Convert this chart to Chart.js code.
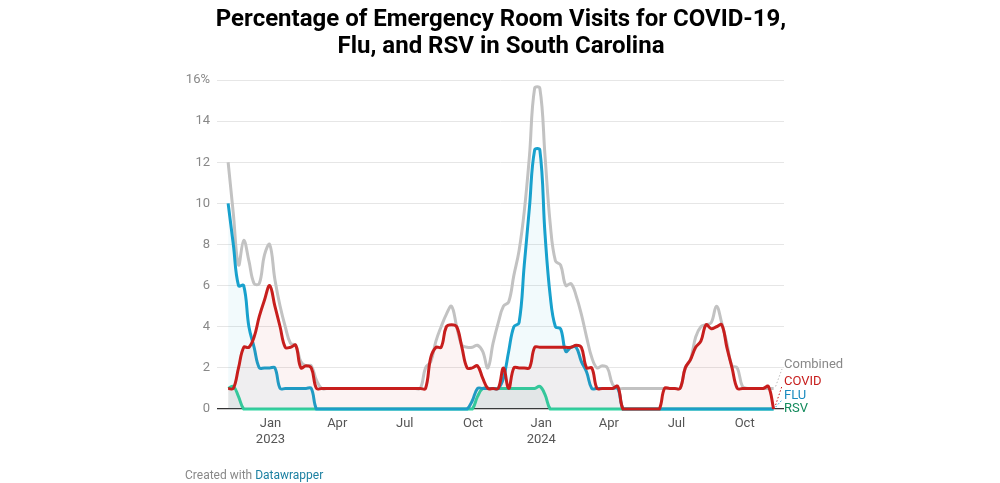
<!DOCTYPE html>
<html>
<head>
<meta charset="utf-8">
<script src="https://cdn.jsdelivr.net/npm/chart.js@4"></script>
<style>
  html, body { margin: 0; padding: 0; background: #fff; }
  canvas { display: block; }
</style>
</head>
<body>
<canvas id="c" width="1000" height="483"></canvas>
<script>
// ---------- DATA ----------
const firstWeek = '2022-11-05';   // weekly series start
const weekCount = 106;

const covid = [1,1,2,3,3,3.5,4.5,5.3,6,5,4,3,3,3.1,2,2.1,2,1,
  1,1,1,1,1,1,1,1,1,1,1,1,1,1,1,1,1,1,1,1,1,
  2.5,3,3,4,4.1,4,3,2,2,2.1,1.5,1,1,1,2,1,2,2,2,2,
  3,3,3,3,3,3,3,3,3.1,3,2,2,1,1,1,1,1.1,
  0,0,0,0,0,0,0,0,
  1,1,1,1,2,2.4,3,3.3,4.1,3.9,4,4.1,3,2,1,1,1,1,1,1,1.1,0];

const flu = [10,8,6,6,4,3,2,2,2,2,1,1,1,1,1,1,1,0,
  0,0,0,0,0,0,0,0,0,0,0,0,0,0,0,0,0,0,0,0,0,
  0,0,0,0,0,0,0,0,0.4,1,1,1,1,1,1.5,2.8,4,4.2,7,9.8,
  12.6,12.6,8.5,5.5,4,3.9,2.8,3,3,2.3,1.8,1,1,1,1,1,1,
  0,0,0,0,0,0,0,0,
  0,0,0,0,0,0,0,0,0,0,0,0,0,0,0,0,0,0,0,0,0,0];

const rsv = [1,1.1,0.6,0,0,0,0,0,0,0,0,0,0,0,0,0,0,0,
  0,0,0,0,0,0,0,0,0,0,0,0,0,0,0,0,0,0,0,0,0,
  0,0,0,0,0,0,0,0,0,0.6,1,1,1,1,1,1,1,1,1,1,
  1,1.1,0.7,0,0,0,0,0,0,0,0,0,0,0,0,0,0,
  0,0,0,0,0,0,0,0,
  0,0,0,0,0,0,0,0,0,0,0,0,0,0,0,0,0,0,0,0,0,0];

const combined = [12,9.5,7,8.2,7.2,6.1,6.1,7.5,8,6.3,5,4,3.2,3.1,2.3,2.1,2.1,1.4,
  1,1,1,1,1,1,1,1,1,1,1,1,1,1,1,1,1,1,1,1,2,
  2.3,3.3,4,4.6,5,4,3.1,3,3,3.1,2.8,2,3.2,4.2,5,5.2,6.5,7.7,9.6,12.3,
  15.6,15.6,12.3,9,7.2,7,6,6.1,5.5,4.6,3.5,2.5,2,2.1,2,1.2,1,
  1,1,1,1,1,1,1,1,
  1,1,1,1,2,2.4,3.5,4,4.1,4.2,5,4.2,3.2,2.1,2,1.1,1,1,1,1,1,1];

const tickDates  = ['2023-01-01','2023-04-01','2023-07-01','2023-10-01','2024-01-01','2024-04-01','2024-07-01','2024-10-01'];
const tickLabels = [['Jan','2023'],'Apr','Jul','Oct',['Jan','2024'],'Apr','Jul','Oct'];
const yTicks = [0,2,4,6,8,10,12,14,16];

const seriesNames = ['Combined','COVID','FLU','RSV'];

// ---------- helpers ----------
const origin = Date.UTC(2023,0,1);
function dayOf(s){ const [y,m,d]=s.split('-').map(Number); return Math.round((Date.UTC(y,m-1,d)-origin)/86400000); }
const startDay = dayOf(firstWeek);
const weekDays = Array.from({length: weekCount}, (_, i) => startDay + 7*i);
const toPts = arr => arr.map((v,i) => ({x: weekDays[i], y: v}));
const tickDays = tickDates.map(dayOf);

const C = { combined:'#c2c2c2', covid:'#c71e1d', flu:'#18a1cd', rsv:'#2fd4a0' };

const decor = {
  id: 'decor',
  afterDraw(chart) {
    const ctx = chart.ctx;
    const xs = chart.scales.x, ys = chart.scales.y;
    ctx.save();
    // title
    ctx.fillStyle = '#000';
    ctx.font = 'bold 24px Roboto';
    ctx.textAlign = 'center';
    ctx.textBaseline = 'middle';
    ctx.fillText('Percentage of Emergency Room Visits for COVID-19,', 501, 20);
    ctx.fillText('Flu, and RSV in South Carolina', 501, 47);
    // footer
    ctx.textAlign = 'left';
    ctx.font = '12px Roboto';
    ctx.fillStyle = '#888';
    const t1 = 'Created with ';
    ctx.fillText(t1, 185, 476);
    ctx.fillStyle = '#1d81a2';
    ctx.fillText('Datawrapper', 185 + ctx.measureText(t1).width, 476);
    // end labels
    const lastX = xs.getPixelForValue(weekDays[weekCount-1]);
    const labels = [
      {t: seriesNames[0], c: '#888888', y: 365, v: combined[weekCount-1], lc: '#bbbbbb'},
      {t: seriesNames[1], c: '#c71e1d', y: 382, v: covid[weekCount-1], lc: '#c71e1d'},
      {t: seriesNames[2], c: '#1b8bbf', y: 396, v: flu[weekCount-1], lc: '#18a1cd'},
      {t: seriesNames[3], c: '#138a5c', y: 409, v: null}
    ];
    ctx.font = '13px Roboto';
    labels.forEach((l, k) => {
      if (l.v !== null) {
        ctx.beginPath();
        ctx.setLineDash([1.5, 2]);
        ctx.strokeStyle = l.lc;
        ctx.lineWidth = 1;
        const y0 = ys.getPixelForValue(l.v) - (k === 1 ? 4 : 2);
        ctx.moveTo(lastX + 2, y0);
        ctx.lineTo(782, l.y + 4);
        ctx.stroke();
        ctx.setLineDash([]);
      }
      ctx.fillStyle = l.c;
      ctx.fillText(l.t, 784, l.y);
    });
    ctx.restore();
  }
};

const common = { borderWidth: 3, pointRadius: 0, tension: 0.4, fill: 'origin', clip: 8 };

new Chart(document.getElementById('c'), {
  type: 'line',
  data: {
    datasets: [
      Object.assign({ label: 'COVID', data: toPts(covid), borderColor: C.covid, backgroundColor: 'rgba(199,30,29,0.055)', order: 0 }, common),
      Object.assign({ label: 'FLU', data: toPts(flu), borderColor: C.flu, backgroundColor: 'rgba(24,161,205,0.055)', order: 1 }, common),
      Object.assign({ label: 'RSV', data: toPts(rsv), borderColor: C.rsv, backgroundColor: 'rgba(20,110,90,0.06)', order: 2 }, common),
      Object.assign({}, common, { label: 'Combined', data: toPts(combined), borderColor: C.combined, fill: false, order: 3 })
    ]
  },
  options: {
    responsive: false,
    animation: false,
    devicePixelRatio: 1,
    layout: { padding: { top: 80, right: 216, bottom: 0, left: 0 } },
    plugins: { legend: { display: false }, tooltip: { enabled: false }, title: { display: false } },
    scales: {
      x: {
        type: 'linear',
        min: dayOf('2022-10-21'),
        max: dayOf('2024-11-23'),
        afterFit: s => { s.height = 74; },
        afterBuildTicks: s => { s.ticks = tickDays.map(v => ({ value: v })); },
        grid: { display: false, drawTicks: false },
        border: { display: false },
        ticks: {
          autoSkip: false, maxRotation: 0, padding: 7,
          color: '#555', font: { family: 'Roboto', size: 13 },
          callback: v => { const k = tickDays.indexOf(v); return k >= 0 ? tickLabels[k] : ''; }
        }
      },
      y: {
        min: 0, max: 16,
        afterFit: s => { s.width = 217; },
        afterBuildTicks: s => { s.ticks = yTicks.map(v => ({ value: v })); },
        grid: {
          drawTicks: false,
          color: c => c.tick && c.tick.value === 0 ? '#333' : '#e6e6e6',
          lineWidth: c => c.tick && c.tick.value === 0 ? 1.3 : 1
        },
        border: { display: false },
        ticks: {
          padding: 7, color: '#888', font: { family: 'Roboto', size: 13 },
          callback: v => v === 16 ? '16%' : String(v)
        }
      }
    }
  },
  plugins: [decor]
});
</script>
</body>
</html>
